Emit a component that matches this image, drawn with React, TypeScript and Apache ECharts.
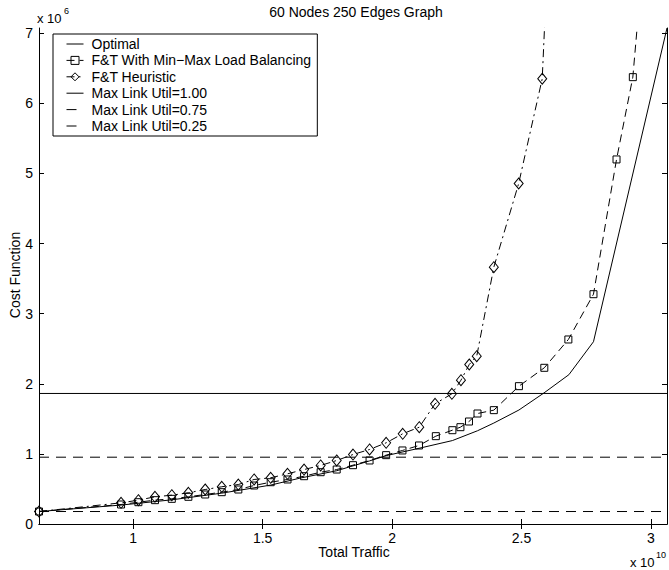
import React, { useEffect, useRef } from "react";
import * as echarts from "echarts";

const X_MIN = 0.636;
const X_MAX = 3.062;
const Y_MIN = 0;
const Y_MAX = 7.075;

const xTicks = [1, 1.5, 2, 2.5, 3];
const yTicks = [0, 1, 2, 3, 4, 5, 6, 7];

const titleText = "60 Nodes 250 Edges Graph";
const xName = "Total Traffic";
const yName = "Cost Function";

const seriesNames = [
  "Optimal",
  "F&T With Min\u2212Max Load Balancing",
  "F&T Heuristic",
  "Max Link Util=1.00",
  "Max Link Util=0.75",
  "Max Link Util=0.25",
];

// Optimal (x 1e10, y 1e6)
const optimalX = [0.636, 0.953, 1.149, 1.342, 1.531, 1.645, 1.786, 1.913, 1.977, 2.104, 2.233, 2.33, 2.393, 2.49, 2.587, 2.683, 2.778, 3.062];
const optimalY = [0.178, 0.27, 0.345, 0.44, 0.555, 0.655, 0.76, 0.9, 0.975, 1.08, 1.19, 1.33, 1.44, 1.626, 1.87, 2.13, 2.6, 7.075];

// F&T With Min-Max Load Balancing
const minMaxX = [0.636, 0.953, 1.02, 1.084, 1.149, 1.213, 1.278, 1.342, 1.406, 1.467, 1.531, 1.596, 1.66, 1.724, 1.786, 1.849, 1.913, 1.977, 2.04, 2.104, 2.169, 2.233, 2.264, 2.297, 2.33, 2.393, 2.49, 2.588, 2.681, 2.778, 2.867, 2.93, 2.98];
const minMaxY = [0.178, 0.278, 0.311, 0.34, 0.359, 0.388, 0.421, 0.454, 0.492, 0.549, 0.596, 0.635, 0.682, 0.739, 0.777, 0.839, 0.906, 0.982, 1.049, 1.12, 1.253, 1.338, 1.381, 1.462, 1.576, 1.624, 1.966, 2.228, 2.632, 3.278, 5.2, 6.374, 8.5];

// F&T Heuristic
const heurX = [0.636, 0.953, 1.02, 1.084, 1.149, 1.213, 1.278, 1.342, 1.406, 1.467, 1.531, 1.596, 1.66, 1.724, 1.786, 1.849, 1.913, 1.977, 2.041, 2.105, 2.166, 2.231, 2.266, 2.298, 2.327, 2.393, 2.489, 2.58, 2.6];
const heurY = [0.178, 0.302, 0.34, 0.388, 0.411, 0.445, 0.492, 0.531, 0.563, 0.635, 0.659, 0.716, 0.777, 0.835, 0.906, 0.991, 1.063, 1.158, 1.287, 1.381, 1.715, 1.857, 2.051, 2.275, 2.394, 3.663, 4.857, 6.351, 8.0];

// Max link utilisation levels
const utilLevels = [1.862, 0.953, 0.178];

const FONT = '"Liberation Sans", Arial, Helvetica, sans-serif';

function pts(xs: number[], ys: number[]) {
  return xs.map((x, i) =>
    ys[i] > Y_MAX ? { value: [x, ys[i]], symbol: "none" } : { value: [x, ys[i]] }
  );
}

export default function App() {
  const ref = useRef<HTMLDivElement>(null);

  useEffect(() => {
    if (!ref.current) return;
    const chart = echarts.init(ref.current, null, { renderer: "svg" });
    const black = "#000";
    const hidden = { show: false };
    const baseAxis = {
      type: "value",
      axisLine: { show: true, lineStyle: { color: black, width: 1 } },
      splitLine: hidden,
    };
    const plainLine = (name: string) => ({ name, itemStyle: { opacity: 0 } });
    const option: any = {
      animation: false,
      backgroundColor: "#fff",
      title: {
        text: titleText,
        left: 351,
        top: 0,
        textAlign: "center",
        textStyle: { fontSize: 14, fontWeight: "normal", fontFamily: FONT, color: black },
      },
      grid: { left: 39, top: 28, width: 628, height: 496, containLabel: false },
      legend: {
        orient: "vertical",
        left: 53,
        top: 34,
        data: [
          plainLine(seriesNames[0]),
          { name: seriesNames[1] },
          { name: seriesNames[2] },
          plainLine(seriesNames[3]),
          plainLine(seriesNames[4]),
          plainLine(seriesNames[5]),
        ],
        itemWidth: 17,
        itemHeight: 10,
        itemGap: 2.4,
        padding: [3, 6, 3, 13],
        borderColor: black,
        borderWidth: 1,
        borderRadius: 0,
        backgroundColor: "#fff",
        selectedMode: false,
        lineStyle: { width: 1 },
        itemStyle: { borderWidth: 1 },
        textStyle: { fontSize: 14, fontFamily: FONT, color: black, padding: [0, 0, 0, 3], lineHeight: 14 },
      },
      xAxis: [
        {
          ...baseAxis,
          position: "bottom",
          min: X_MIN,
          max: X_MAX,
          axisTick: { show: true, inside: true, length: 5, customValues: xTicks, lineStyle: { color: black } },
          axisLabel: {
            show: true,
            customValues: xTicks,
            margin: 7,
            color: black,
            fontSize: 14,
            fontFamily: FONT,
            formatter: (v: number) => String(v),
          },
        },
        {
          ...baseAxis,
          position: "top",
          min: X_MIN,
          max: X_MAX,
          axisTick: { show: true, inside: true, length: 5, customValues: xTicks, lineStyle: { color: black } },
          axisLabel: { show: false },
        },
      ],
      yAxis: [
        {
          ...baseAxis,
          position: "left",
          min: Y_MIN,
          max: Y_MAX,
          axisTick: { show: true, inside: true, length: 5, customValues: yTicks, lineStyle: { color: black } },
          axisLabel: {
            show: true,
            customValues: yTicks,
            margin: 6,
            color: black,
            fontSize: 14,
            fontFamily: FONT,
            formatter: (v: number) => String(v),
          },
        },
        {
          ...baseAxis,
          position: "right",
          min: Y_MIN,
          max: Y_MAX,
          axisTick: { show: true, inside: true, length: 5, customValues: yTicks, lineStyle: { color: black } },
          axisLabel: { show: false },
        },
      ],
      series: [
        {
          name: seriesNames[0],
          type: "line",
          data: pts(optimalX, optimalY),
          symbol: "none",
          clip: true,
          lineStyle: { color: black, width: 1 },
          itemStyle: { color: black },
          z: 3,
        },
        {
          name: seriesNames[1],
          type: "line",
          data: pts(minMaxX, minMaxY),
          symbol: "rect",
          symbolSize: 7,
          showAllSymbol: true,
          clip: true,
          lineStyle: { color: black, width: 1, type: [8, 5] },
          itemStyle: { color: "rgba(255,255,255,0)", borderColor: black, borderWidth: 1 },
          z: 4,
        },
        {
          name: seriesNames[2],
          type: "line",
          data: pts(heurX, heurY),
          symbol: "diamond",
          symbolSize: [9, 11],
          showAllSymbol: true,
          clip: true,
          lineStyle: { color: black, width: 1, type: [8, 4, 2, 4] },
          itemStyle: { color: "rgba(255,255,255,0)", borderColor: black, borderWidth: 1 },
          z: 4,
        },
        {
          name: seriesNames[3],
          type: "line",
          data: [[X_MIN, utilLevels[0]], [X_MAX, utilLevels[0]]],
          symbol: "none",
          lineStyle: { color: black, width: 1 },
          itemStyle: { color: black },
          z: 2,
        },
        {
          name: seriesNames[4],
          type: "line",
          data: [[X_MIN, utilLevels[1]], [X_MAX, utilLevels[1]]],
          symbol: "none",
          lineStyle: { color: black, width: 1, type: [10, 7] },
          itemStyle: { color: black },
          z: 2,
        },
        {
          name: seriesNames[5],
          type: "line",
          data: [[X_MIN, utilLevels[2]], [X_MAX, utilLevels[2]]],
          symbol: "none",
          lineStyle: { color: black, width: 1, type: [10, 7] },
          itemStyle: { color: black },
          z: 2,
        },
      ],
      graphic: [
        {
          type: "text",
          x: 37,
          y: 18,
          style: { text: "x 10", fontSize: 13, fontFamily: FONT, fill: black, align: "left", verticalAlign: "middle" },
        },
        {
          type: "text",
          x: 64,
          y: 11,
          style: { text: "6", fontSize: 9, fontFamily: FONT, fill: black, align: "left", verticalAlign: "middle" },
        },
        {
          type: "text",
          x: 630,
          y: 562,
          style: { text: "x 10", fontSize: 13, fontFamily: FONT, fill: black, align: "left", verticalAlign: "middle" },
        },
        {
          type: "text",
          x: 656,
          y: 555,
          style: { text: "10", fontSize: 9, fontFamily: FONT, fill: black, align: "left", verticalAlign: "middle" },
        },
        {
          type: "text",
          x: 354,
          y: 552,
          style: { text: xName, fontSize: 14, fontFamily: FONT, fill: black, align: "center", verticalAlign: "middle" },
        },
        {
          type: "text",
          x: 15,
          y: 275,
          rotation: Math.PI / 2,
          style: { text: yName, fontSize: 14, fontFamily: FONT, fill: black, align: "center", verticalAlign: "middle" },
        },
      ],
    };
    chart.setOption(option);
    return () => chart.dispose();
  }, []);

  return (
    <div
      ref={ref}
      style={{ position: "absolute", left: 0, top: 0, width: 669, height: 570, background: "#fff" }}
    />
  );
}
